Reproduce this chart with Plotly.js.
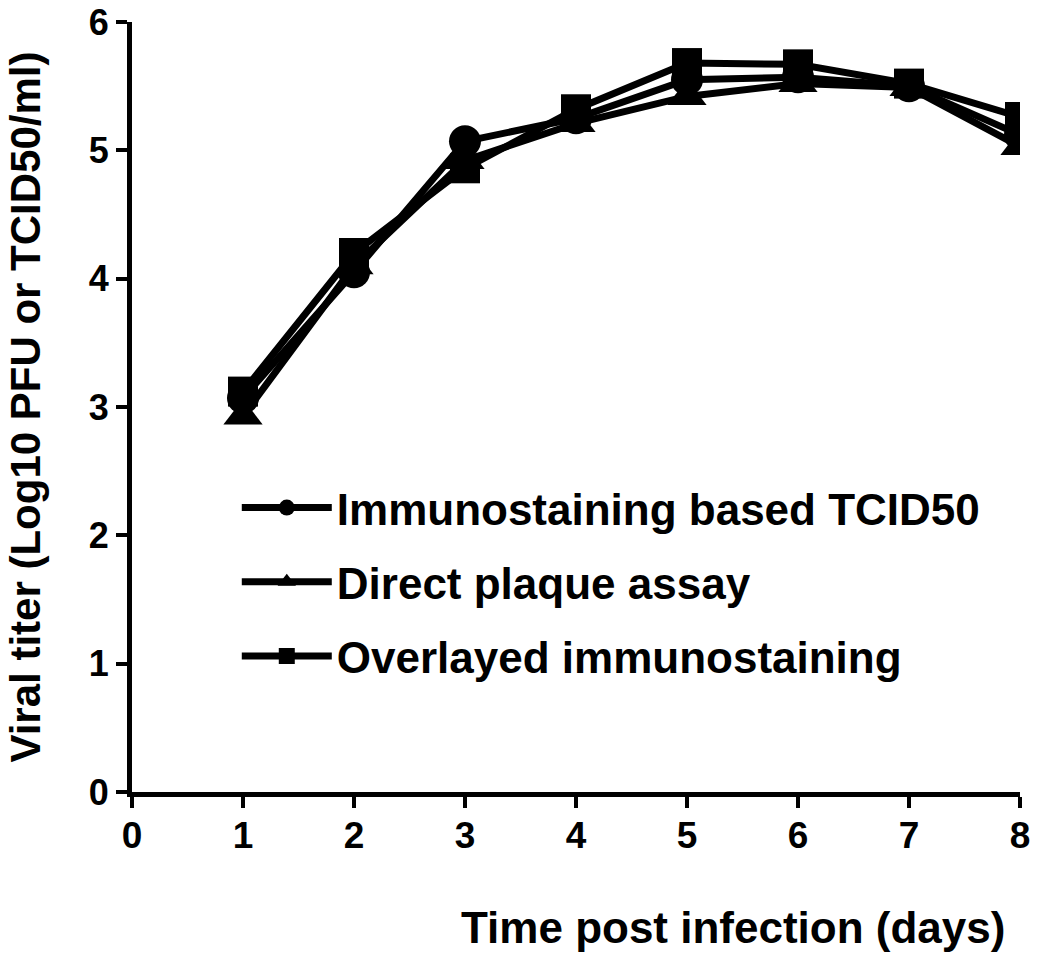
<!DOCTYPE html>
<html>
<head>
<meta charset="utf-8">
<script src="https://cdn.plot.ly/plotly-3.0.1.min.js"></script>
<style>html,body{margin:0;padding:0;background:#fff;}#chart{width:1050px;height:953px;}</style>
</head>
<body>
<div id="chart"></div>
<script>
const days = [1, 2, 3, 4, 5, 6, 7, 8];
const immunoTCID50 = [3.07, 4.05, 5.07, 5.25, 5.55, 5.57, 5.50, 5.12];
const directPlaque = [2.93, 4.10, 4.92, 5.21, 5.42, 5.52, 5.49, 5.03];
const overlayedImmuno = [3.12, 4.20, 4.86, 5.32, 5.68, 5.67, 5.52, 5.26];
const seriesNames = ["Immunostaining based TCID50", "Direct plaque assay", "Overlayed immunostaining"];
const xTicks = [0, 1, 2, 3, 4, 5, 6, 7, 8];
const yTicks = [0, 1, 2, 3, 4, 5, 6];
const xTitle = "Time post infection (days)";
const yTitle = "Viral titer (Log10 PFU or TCID50/ml)";

const FONT = "Liberation Sans, Arial, sans-serif";
function tr(y, name, symbol, size, rank) {
  return {
    x: days, y: y, name: name, type: "scatter", mode: "lines+markers",
    legendrank: rank, legendgroup: "g" + rank,
    line: {color: "#000", width: 7},
    marker: {symbol: symbol, size: size, color: "#000"}
  };
}
const data = [
  tr(directPlaque, seriesNames[1], "triangle-up", 34, 2),
  tr(immunoTCID50, seriesNames[0], "circle", 32, 1),
  tr(overlayedImmuno, seriesNames[2], "square", 30, 3)
];
const layout = {
  width: 1050, height: 953,
  margin: {l: 132, r: 30, t: 22, b: 161},
  paper_bgcolor: "#fff", plot_bgcolor: "#fff",
  font: {family: FONT, color: "#000"},
  showlegend: true,
  legend: {
    x: 0.118, y: 0.415, xanchor: "left", yanchor: "top",
    traceorder: "grouped",
    font: {family: FONT, size: 44, color: "#000", weight: "bold"},
    itemwidth: 90, tracegroupgap: 14,
    bgcolor: "rgba(0,0,0,0)"
  },
  xaxis: {
    range: [0, 8], tickvals: xTicks, ticktext: xTicks.map(String),
    showgrid: false, zeroline: false, showline: true, linecolor: "#000", linewidth: 5,
    ticks: "outside", ticklen: 11, tickwidth: 4, tickcolor: "#000",
    ticklabeloverflow: "allow", ticklabelstandoff: -4,
    tickfont: {family: FONT, size: 37, color: "#000", weight: "bold"},
    fixedrange: true
  },
  yaxis: {
    range: [0, 6], tickvals: yTicks, ticktext: yTicks.map(String),
    showgrid: false, zeroline: false, showline: true, linecolor: "#000", linewidth: 5,
    ticks: "outside", ticklen: 11, tickwidth: 4, tickcolor: "#000",
    ticklabeloverflow: "allow",
    tickfont: {family: FONT, size: 36, color: "#000", weight: "bold"},
    fixedrange: true
  },
  annotations: [{
    text: xTitle, xref: "paper", yref: "paper",
    x: 0.677, y: -0.176, xanchor: "center", yanchor: "middle", showarrow: false,
    font: {family: FONT, size: 44, color: "#000", weight: "bold"}
  }, {
    text: yTitle, xref: "paper", yref: "paper", textangle: -90,
    x: -0.121, y: 0.5, xanchor: "center", yanchor: "middle", showarrow: false,
    font: {family: FONT, size: 42, color: "#000", weight: "bold"}
  }]
};
Plotly.newPlot("chart", data, layout, {staticPlot: true});
</script>
</body>
</html>
